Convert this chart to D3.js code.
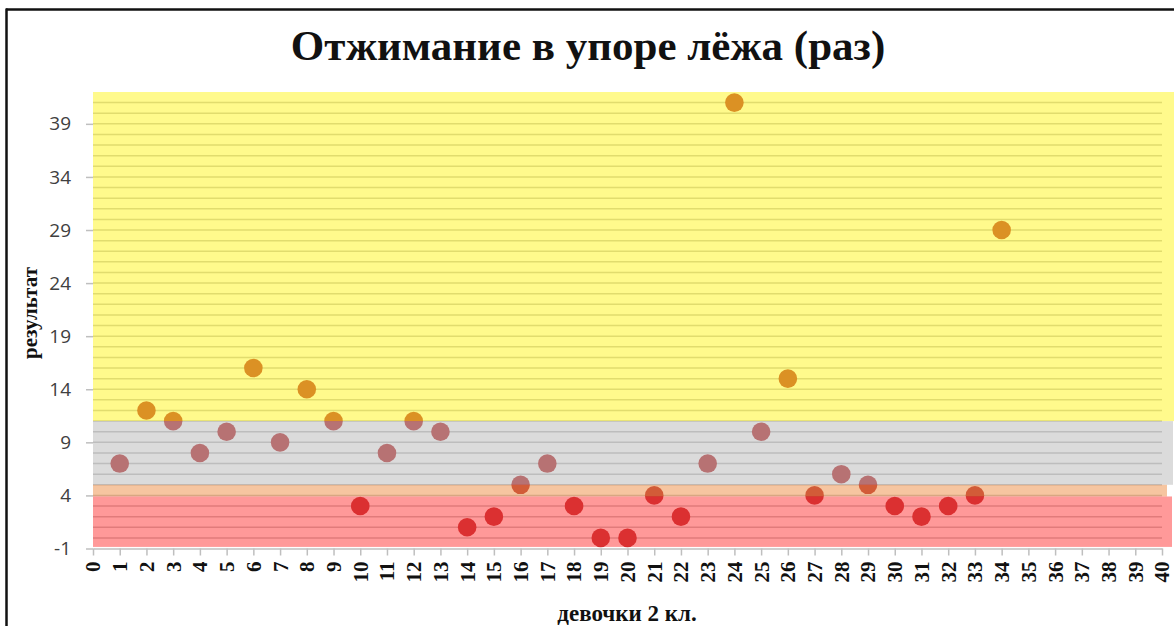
<!DOCTYPE html>
<html>
<head>
<meta charset="utf-8">
<script src="https://cdn.jsdelivr.net/npm/d3@7"></script>
<style>
  html, body { margin: 0; padding: 0; background: #fff; }
  svg { display: block; }
</style>
</head>
<body>
<div id="chart"></div>
<script>
// ---- data ----
const title = "Отжимание в упоре лёжа (раз)";
const xTitle = "девочки 2 кл.";
const yTitle = "результат";
const girls = [1,2,3,4,5,6,7,8,9,10,11,12,13,14,15,16,17,18,19,20,21,22,23,24,25,26,27,28,29,30,31,32,33,34];
const results = [7,12,11,8,10,16,9,14,11,3,8,11,10,1,2,5,7,3,0,0,4,2,7,41,10,15,4,6,5,3,2,3,4,29];
const yTicks = [-1,4,9,14,19,24,29,34,39];
const xTicks = d3.range(0, 41);
const bandNames = ["high", "middle", "border", "low"];
const bandFrom = [11, 5, 3.9, -0.85];
const bandTo = [42, 11, 5, 3.9];

// ---- layout ----
const W = 1174, H = 626;
const svg = d3.select("#chart").append("svg").attr("width", W).attr("height", H);

const x = d3.scaleLinear().domain([0, 40]).range([93, 1162]);
const y = d3.scaleLinear().domain([-1, 42]).range([548.5, 92]);

const bandFill = { high: "rgb(255,246,46)", middle: "rgb(190,190,190)", border: "rgb(238,150,82)", low: "rgb(255,70,70)" };
const bandRightExtra = { high: 14, middle: 11, border: 5, low: 10 };
const overlayOpacity = 0.55;

// frame
svg.append("line").attr("x1", 6).attr("x2", W).attr("y1", 9.5).attr("y2", 9.5)
  .attr("stroke", "#111").attr("stroke-width", 2.5);
svg.append("line").attr("x1", 6.5).attr("x2", 6.5).attr("y1", 8.5).attr("y2", H)
  .attr("stroke", "#111").attr("stroke-width", 2.5);

// title
svg.append("text").attr("x", 588).attr("y", 60).attr("text-anchor", "middle")
  .attr("font-family", "'Liberation Serif', 'Times New Roman', serif").attr("font-weight", "bold")
  .attr("font-size", 43).attr("fill", "#111").text(title);

// gridlines (every integer)
const grid = svg.append("g");
grid.selectAll("line").data(d3.range(0, 42)).join("line")
  .attr("x1", x(0)).attr("x2", x(40))
  .attr("y1", d => y(d)).attr("y2", d => y(d))
  .attr("stroke", "#bdbdbd").attr("stroke-width", 1.5);

// points (underneath translucent bands)
svg.append("g").selectAll("circle").data(girls).join("circle")
  .attr("cx", (d) => x(d)).attr("cy", (d, i) => y(results[i])).attr("r", 9.3)
  .attr("fill", "rgb(176,24,26)");

// translucent bands
svg.append("g").selectAll("rect").data(bandNames).join("rect")
  .attr("x", x(0))
  .attr("width", d => x(40) - x(0) + bandRightExtra[d])
  .attr("y", (d, i) => y(bandTo[i]))
  .attr("height", (d, i) => y(bandFrom[i]) - y(bandTo[i]))
  .attr("fill", d => bandFill[d]).attr("fill-opacity", overlayOpacity);

// x axis
const xAxis = d3.axisBottom(x).tickValues(xTicks).tickFormat(d => String(d)).tickSize(7).tickSizeOuter(0);
const gx = svg.append("g").attr("transform", `translate(0,${y(-1)})`).call(xAxis);
gx.select(".domain").attr("stroke", "#bfbfbf").attr("stroke-width", 1.5);
gx.selectAll(".tick line").attr("stroke", "#bfbfbf").attr("stroke-width", 1.5);
gx.selectAll(".tick text")
  .attr("font-family", "'Liberation Serif', 'Times New Roman', serif").attr("font-weight", "bold")
  .attr("font-size", 21).attr("fill", "#111")
  .attr("text-anchor", "end").attr("dy", "0.33em")
  .attr("transform", "translate(0,13) rotate(-90)")
  .attr("x", 0).attr("y", 0);

// y axis
const yAxis = d3.axisLeft(y).tickValues(yTicks).tickFormat(d => String(d)).tickSize(7).tickSizeOuter(0);
const gy = svg.append("g").attr("transform", `translate(${x(0)},0)`).call(yAxis);
gy.select(".domain").remove();
gy.selectAll(".tick line").attr("stroke", "#bfbfbf").attr("stroke-width", 1.5);
gy.selectAll(".tick text")
  .attr("font-family", "'Open Sans', 'Liberation Sans', sans-serif")
  .attr("font-size", 19).attr("fill", "#404040").attr("x", -22);

// axis titles
svg.append("text").attr("x", 627).attr("y", 621).attr("text-anchor", "middle")
  .attr("font-family", "'Liberation Serif', 'Times New Roman', serif").attr("font-weight", "bold")
  .attr("font-size", 23).attr("fill", "#111").text(xTitle);
svg.append("text").attr("transform", "translate(37,313) rotate(-90)").attr("text-anchor", "middle")
  .attr("font-family", "'Liberation Serif', 'Times New Roman', serif").attr("font-weight", "bold")
  .attr("font-size", 21).attr("fill", "#111").text(yTitle);
</script>
</body>
</html>
